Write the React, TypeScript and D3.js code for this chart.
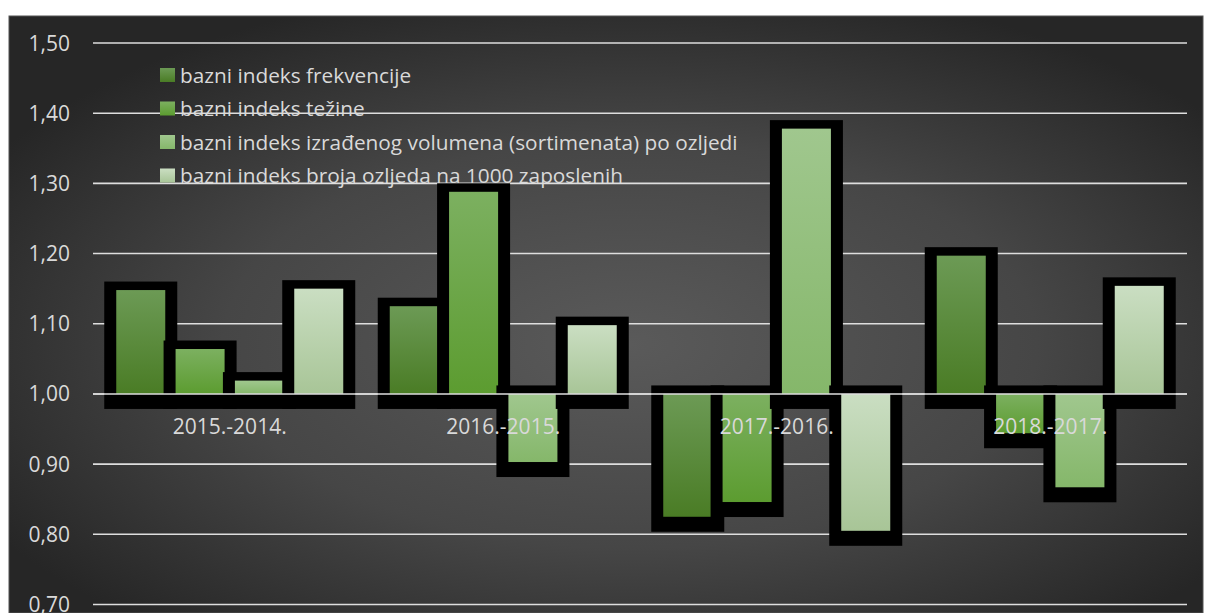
import React from "react";
import * as d3 from "d3";

const categories = ["2015.-2014.", "2016.-2015.", "2017.-2016.", "2018.-2017."];
const seriesNames = [
  "bazni indeks frekvencije",
  "bazni indeks težine",
  "bazni indeks izrađenog volumena (sortimenata) po ozljedi",
  "bazni indeks broja ozljeda na 1000 zaposlenih",
];
const frekvencija = [1.148, 1.125, 0.825, 1.197];
const tezina = [1.064, 1.288, 0.846, 0.944];
const volumen = [1.019, 0.903, 1.378, 0.867];
const brojOzljeda = [1.15, 1.098, 0.805, 1.154];
const yTicks = [0.7, 0.8, 0.9, 1.0, 1.1, 1.2, 1.3, 1.4, 1.5];

const seriesValues = [frekvencija, tezina, volumen, brojOzljeda];
const gradStops = [
  ["#6c9a55", "#4a7c25"],
  ["#7cb060", "#5c9c30"],
  ["#a0c78e", "#85b76a"],
  ["#cadec2", "#a8c597"],
];

export default function App() {
  const W = 1205;
  const H = 613;
  const left = 93;
  const right = 1187;
  const y = d3.scaleLinear().domain([0.7, 1.5]).range([604.5, 43]);
  const x0 = d3.scaleBand().domain(categories).range([left, right]).paddingInner(0).paddingOuter(0);
  const groupW = 227;
  const x1 = d3
    .scaleBand()
    .domain(d3.range(4).map(String))
    .range([0, groupW])
    .paddingInner(0.174)
    .paddingOuter(0);
  const base = y(1.0);
  const font = "'Open Sans', sans-serif";
  const txt = "#d9d9d9";

  const bars: { s: number; c: number; x: number; w: number; y0: number; y1: number }[] = [];
  seriesValues.forEach((vals, s) => {
    vals.forEach((v, c) => {
      const gx = (x0(categories[c]) as number) + (x0.bandwidth() - groupW) / 2;
      const bx = gx + (x1(String(s)) as number);
      bars.push({ s, c, x: bx, w: x1.bandwidth(), y0: Math.min(y(v), base), y1: Math.max(y(v), base) });
    });
  });

  return (
    <svg width={W} height={H} style={{ position: "absolute", left: 0, top: 0 }}>
      <defs>
        <radialGradient id="bg" cx="52%" cy="55%" r="62%">
          <stop offset="0%" stopColor="#5a5a5a" />
          <stop offset="55%" stopColor="#464646" />
          <stop offset="100%" stopColor="#262626" />
        </radialGradient>
        {gradStops.map((g, i) => (
          <linearGradient key={i} id={`g${i}`} x1="0" y1="0" x2="0" y2="1">
            <stop offset="0%" stopColor={g[0]} />
            <stop offset="100%" stopColor={g[1]} />
          </linearGradient>
        ))}
      </defs>
      <rect x={0} y={0} width={W} height={H} fill="#ffffff" />
      <rect x={9} y={16} width={1194} height={H - 16} fill="url(#bg)" stroke="#555" strokeWidth={1} />
      {yTicks.map((t) => (
        <g key={t}>
          <line x1={left} x2={right} y1={y(t)} y2={y(t)} stroke="#dedede" strokeWidth={1.6} />
          <text
            x={70}
            y={y(t)}
            dy="0.36em"
            textAnchor="end"
            fontFamily={font}
            fontSize={21}
            fill={txt}
          >
            {d3.format(".2f")(t).replace(".", ",")}
          </text>
        </g>
      ))}
      {bars.map((b, i) => (
        <g key={i}>
          <rect x={b.x - 12} y={b.y0 - 8.5} width={b.w + 24} height={b.y1 - b.y0 + 23.5} fill="#000" />
          <rect x={b.x} y={b.y0} width={b.w} height={b.y1 - b.y0} fill={`url(#g${b.s})`} />
        </g>
      ))}
      <line x1={left} x2={right} y1={base} y2={base} stroke="#dedede" strokeWidth={1.6} />
      {categories.map((c) => (
        <text
          key={c}
          x={(x0(c) as number) + x0.bandwidth() / 2}
          y={426}
          dy="0.36em"
          textAnchor="middle"
          fontFamily={font}
          fontSize={21}
          fill={txt}
        >
          {c}
        </text>
      ))}
      {seriesNames.map((n, i) => (
        <g key={n} transform={`translate(160, ${75 + i * 33.5})`}>
          <rect x={0} y={-7} width={15} height={14} fill={`url(#g${i})`} />
          <text x={20} y={0} dy="0.36em" fontFamily={font} fontSize={20.8} fill={txt}>
            {n}
          </text>
        </g>
      ))}
    </svg>
  );
}
